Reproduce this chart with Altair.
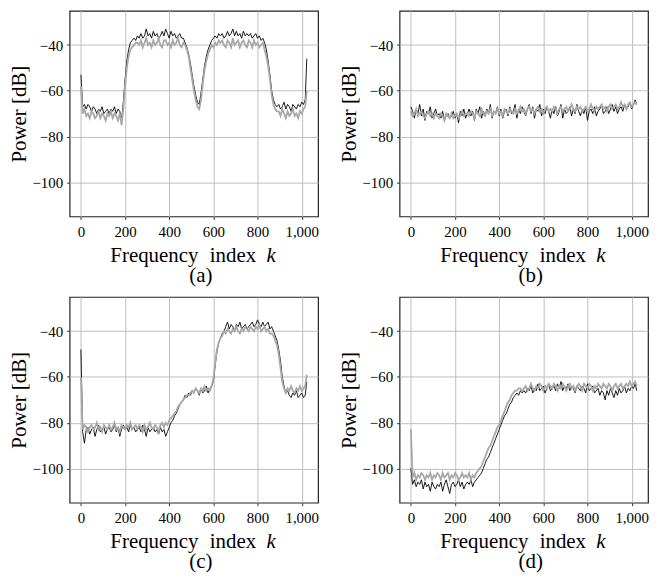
import altair as alt
import pandas as pd

# Frequency indices (every 8th bin plus the last bin)
K = list(range(0, 1024, 8)) + [1023]

# ---- panel (a) ----
A_BLACK = [
    -53, -67, -66, -68, -66, -67, -69, -67, -68, -70, -68, -69, -67, -70, -69, -68,
    -70, -68, -69, -67, -70, -68, -69, -73, -65, -55, -47, -42, -39, -38, -37, -38,
    -36, -37, -35, -37, -36, -33, -36, -35, -37, -34, -36, -35, -37, -36, -34, -36,
    -33, -35, -37, -34, -36, -35, -37, -36, -35, -37, -37, -39, -41, -44, -48, -53,
    -58, -62, -65, -66, -61, -55, -49, -45, -42, -40, -38, -37, -36, -37, -35, -36,
    -35, -37, -36, -34, -36, -35, -33, -36, -34, -36, -35, -37, -34, -36, -35, -36,
    -35, -37, -36, -35, -37, -36, -38, -37, -39, -42, -47, -53, -60, -64, -66, -67,
    -66, -68, -67, -65, -68, -66, -67, -69, -66, -67, -68, -66, -67, -65, -66, -64,
    -46,
]
A_GRAY = [
    -58, -70, -68, -71, -70, -72, -69, -70, -72, -71, -69, -72, -70, -71, -73, -70,
    -71, -69, -72, -70, -71, -73, -70, -75, -68, -58, -50, -45, -42, -41, -40, -39,
    -39, -40, -38, -41, -39, -37, -40, -39, -41, -38, -40, -39, -37, -40, -41, -38,
    -38, -40, -39, -41, -38, -40, -39, -37, -40, -41, -39, -40, -42, -45, -50, -55,
    -60, -64, -67, -68, -64, -57, -51, -47, -44, -42, -40, -41, -39, -40, -38, -39,
    -38, -40, -41, -38, -39, -41, -37, -40, -39, -38, -41, -39, -38, -40, -41, -38,
    -39, -41, -38, -40, -39, -41, -40, -39, -42, -45, -49, -55, -62, -66, -68, -69,
    -69, -71, -68, -70, -72, -69, -71, -70, -68, -71, -70, -72, -69, -70, -68, -67,
    -60,
]

# ---- panel (b) ----
B_BLACK = [
    -67, -69, -72, -68, -70, -66, -71, -68, -73, -69, -70, -67, -72, -70, -68, -71,
    -70, -72, -69, -73, -71, -70, -72, -71, -69, -72, -70, -74, -69, -71, -68, -72,
    -70, -68, -71, -69, -73, -68, -70, -67, -72, -69, -71, -68, -70, -66, -72, -69,
    -70, -67, -71, -68, -72, -69, -68, -71, -67, -70, -69, -66, -72, -68, -70, -67,
    -69, -71, -68, -66, -70, -67, -72, -68, -69, -66, -71, -68, -70, -67, -69, -72,
    -68, -70, -67, -71, -69, -66, -72, -68, -70, -69, -67, -71, -68, -70, -66, -69,
    -71, -68, -70, -67, -73, -69, -68, -70, -67, -71, -69, -68, -66, -70, -69, -67,
    -70, -68, -66, -69, -67, -70, -68, -67, -69, -66, -68, -67, -65, -68, -66, -64,
    -66,
]
B_GRAY = [
    -69, -71, -70, -68, -71, -70, -69, -71, -72, -70, -69, -71, -70, -72, -70, -71,
    -72, -70, -71, -73, -70, -71, -72, -70, -72, -71, -70, -72, -71, -69, -71, -70,
    -70, -71, -69, -70, -72, -69, -70, -71, -68, -70, -71, -69, -70, -68, -71, -69,
    -70, -68, -70, -69, -71, -68, -69, -70, -68, -69, -70, -68, -70, -69, -67, -69,
    -68, -70, -68, -67, -69, -68, -70, -68, -67, -69, -68, -70, -68, -67, -69, -68,
    -69, -67, -68, -70, -68, -67, -69, -68, -67, -69, -68, -66, -68, -69, -67, -68,
    -67, -69, -68, -67, -69, -68, -66, -68, -69, -67, -68, -67, -66, -68, -67, -69,
    -67, -66, -68, -67, -66, -68, -67, -65, -67, -66, -68, -66, -65, -67, -66, -65,
    -66,
]

# ---- panel (c) ----
C_BLACK = [
    -48, -84, -89, -83, -82, -85, -83, -82, -86, -83, -81, -84, -83, -82, -85, -83,
    -82, -84, -83, -81, -84, -82, -86, -83, -81, -83, -82, -84, -81, -83, -82, -84,
    -83, -82, -84, -81, -83, -86, -82, -84, -83, -82, -84, -83, -85, -82, -84, -83,
    -86, -84, -82, -80, -79, -77, -76, -74, -72, -71, -70, -68, -69, -67, -68, -66,
    -67, -65, -66, -68, -65, -67, -66, -64, -67, -65, -64, -62, -55, -49, -45, -43,
    -41, -40, -38, -36, -39, -37, -38, -40, -37, -38, -36, -39, -38, -37, -39, -38,
    -37, -36, -38, -37, -35, -37, -38, -36, -38, -37, -36, -39, -38, -40, -42, -44,
    -48, -53, -60, -64, -67, -66, -68, -69, -67, -68, -66, -69, -68, -67, -69, -68,
    -62,
]
C_GRAY = [
    -60, -83, -81, -82, -84, -82, -81, -83, -82, -80, -83, -82, -84, -81, -82, -83,
    -81, -83, -82, -80, -83, -82, -84, -81, -82, -83, -81, -82, -80, -83, -82, -81,
    -83, -81, -82, -84, -81, -83, -82, -80, -82, -83, -81, -82, -84, -81, -80, -82,
    -80, -81, -79, -78, -77, -76, -75, -73, -72, -71, -70, -69, -68, -68, -67, -66,
    -67, -65, -66, -67, -65, -66, -64, -66, -65, -66, -64, -61, -54, -48, -45, -43,
    -42, -40, -41, -39, -40, -41, -39, -40, -38, -40, -41, -39, -40, -38, -39, -40,
    -38, -39, -40, -38, -39, -37, -40, -39, -38, -40, -39, -41, -41, -42, -44, -46,
    -50, -56, -62, -65, -67, -65, -66, -64, -66, -67, -65, -66, -64, -66, -65, -64,
    -59,
]

# ---- panel (d) ----
D_BLACK = [
    -100, -107, -105, -108, -106, -107, -105, -109, -106, -108, -107, -110, -106, -108, -109, -107,
    -108, -106, -110, -107, -105, -108, -111, -107, -106, -108, -107, -105, -108, -106, -109, -107,
    -106, -107, -105, -108, -106, -105, -104, -103, -102, -100, -98, -96, -95, -93, -91, -89,
    -87, -85, -83, -81, -79, -77, -76, -74, -72, -71, -69, -68, -67, -68, -66, -67,
    -66, -67, -65, -66, -64, -67, -65, -66, -63, -66, -65, -64, -67, -65, -63, -66,
    -65, -64, -66, -63, -65, -62, -66, -64, -65, -63, -66, -64, -65, -67, -64, -65,
    -66, -64, -65, -67, -63, -66, -65, -64, -67, -66, -65, -68, -66, -67, -70, -66,
    -68, -65, -67, -69, -66, -68, -65, -67, -66, -64, -67, -65, -66, -64, -65, -63,
    -66,
]
D_GRAY = [
    -83, -104, -102, -105, -103, -104, -102, -103, -105, -103, -104, -102, -105, -103, -104, -102,
    -103, -105, -102, -104, -103, -102, -105, -103, -104, -102, -103, -105, -104, -102, -104, -103,
    -104, -102, -105, -103, -104, -102, -101, -100, -99, -97, -95, -93, -91, -90, -88, -86,
    -84, -82, -81, -79, -77, -75, -73, -71, -70, -68, -67, -66, -66, -65, -65, -66,
    -65, -64, -66, -65, -63, -65, -66, -64, -65, -63, -64, -66, -64, -65, -63, -64,
    -65, -63, -64, -66, -64, -65, -63, -64, -66, -64, -63, -65, -64, -66, -64, -63,
    -64, -66, -63, -64, -65, -63, -64, -66, -64, -65, -63, -64, -65, -63, -64, -65,
    -63, -64, -66, -64, -63, -65, -64, -63, -65, -64, -63, -64, -62, -64, -63, -62,
    -64,
]

X_TICKS = [0, 200, 400, 600, 800, 1000]
Y_TICKS = [-100, -80, -60, -40]
CAPTIONS = ["(a)", "(b)", "(c)", "(d)"]

FONT = "Liberation Serif"
W, H = 250, 207


def label(text, x, y, align="left", italic=False):
    return alt.Chart(pd.DataFrame({"t": [text]})).mark_text(
        align=align, baseline="alphabetic", font=FONT, fontSize=21,
        color="black", fontStyle="italic" if italic else "normal",
    ).encode(x=alt.value(x), y=alt.value(y), text="t:N")


def panel(black, gray, cap):
    xenc = alt.X("k:Q", scale=alt.Scale(domain=[-51.15, 1074.15], nice=False, zero=False),
                 axis=alt.Axis(values=X_TICKS, format=",d", title=None))
    yenc = alt.Y("p:Q", scale=alt.Scale(domain=[-115, -25], nice=False, zero=False),
                 axis=alt.Axis(values=Y_TICKS, title="Power [dB]",
                               labelExpr="datum.value < 0 ? '\u2212' + format(-datum.value, 'd') : format(datum.value, 'd')"))
    blk = alt.Chart(pd.DataFrame({"k": K, "p": black})).mark_line(
        color="black", strokeWidth=0.9).encode(x=xenc, y=yenc)
    gry = alt.Chart(pd.DataFrame({"k": K, "p": gray})).mark_line(
        color="#a8a8a8", strokeWidth=1.8).encode(x=xenc, y=yenc)
    return alt.layer(
        blk, gry,
        label("Frequency", 41, H + 46),
        label("index", 141, H + 46),
        label("k", 198, H + 46, italic=True),
        label(cap, 132, H + 66, align="center"),
    ).properties(width=W, height=H)


top = alt.hconcat(panel(A_BLACK, A_GRAY, CAPTIONS[0]), panel(B_BLACK, B_GRAY, CAPTIONS[1]), spacing=18)
bot = alt.hconcat(panel(C_BLACK, C_GRAY, CAPTIONS[2]), panel(D_BLACK, D_GRAY, CAPTIONS[3]), spacing=18)

chart = alt.vconcat(top, bot, spacing=9).properties(
    padding={"left": 0, "top": 0, "right": 0, "bottom": 0}
).configure_view(
    stroke="#222222", strokeWidth=1.2
).configure_axis(
    labelFont=FONT, labelFontSize=15, labelColor="black",
    titleFont=FONT, titleFontSize=21, titleColor="black", titleFontWeight="normal",
    grid=True, gridColor="#bdbdbd", gridWidth=1,
    domain=False, tickColor="#333333", tickSize=3, tickWidth=1,
    labelPadding=4,
).configure_axisY(
    titlePadding=2,
).configure_axisX(
    labelPadding=5,
)

chart.save("out.html", embed_options={"renderer": "svg", "actions": False})
